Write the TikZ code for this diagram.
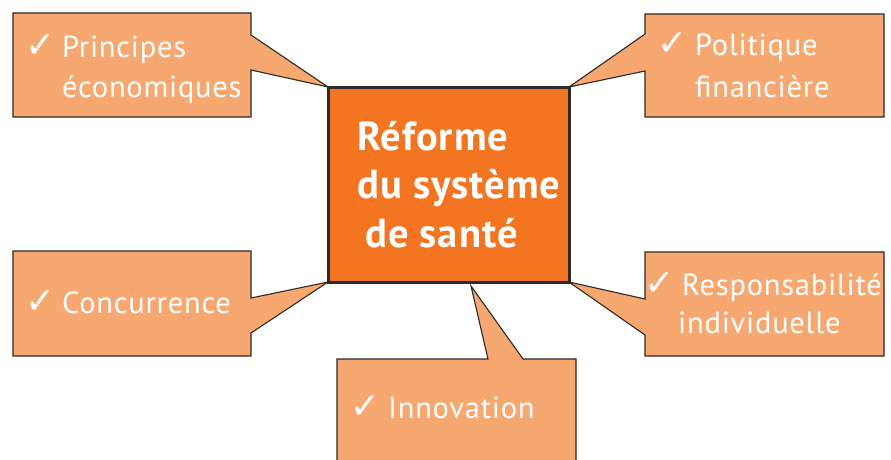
\documentclass[tikz,border=0pt]{standalone}
\usepackage{fontspec}
\setmainfont{PT Sans}[LetterSpace=2.5]
\newfontfamily\symfont{DejaVu Sans}
\definecolor{calloutfill}{HTML}{F6A870}
\definecolor{corefill}{HTML}{F37421}
\definecolor{edge}{HTML}{2B2A29}
\tikzset{
  callout/.style={fill=calloutfill, draw=edge, line width=1.1pt, line join=miter},
  core/.style={fill=corefill, draw=edge, line width=3pt},
  itemtext/.style={anchor=base west, inner sep=0pt, text=white, font=\fontsize{30.5}{36}\selectfont},
  coretext/.style={anchor=base west, inner sep=0pt, text=white, font=\fontsize{40.5}{48}\selectfont\bfseries},
  tick/.style={anchor=base west, inner sep=0pt, text=white, font=\fontsize{36}{40}\symfont}
}
\newcommand{\chk}{\symbol{"2713}}
\begin{document}
\begin{tikzpicture}[x=1pt,y=-1pt]
\useasboundingbox (0,0) rectangle (891,459);

% central box corners (tips of the callout tails)
\coordinate (tl) at (328,87);
\coordinate (tr) at (569,87);
\coordinate (bl) at (328,282);
\coordinate (br) at (569,282);
\coordinate (bm) at (471,286);

% callout: Principes économiques
\draw[callout] (13,13) -- (251,13) -- (251,35) -- (tl) -- (251,70) -- (251,117) -- (13,117) -- cycle;
% callout: Politique financière
\draw[callout] (645,14) -- (884,14) -- (884,117) -- (645,117) -- (645,71) -- (tr) -- (645,34) -- cycle;
% callout: Concurrence
\draw[callout] (13,251) -- (251,251) -- (251,298) -- (bl) -- (251,333) -- (251,356) -- (13,356) -- cycle;
% callout: Responsabilité individuelle
\draw[callout] (645,252) -- (884,252) -- (884,356) -- (645,356) -- (645,335) -- (br) -- (645,299) -- cycle;
% callout: Innovation
\draw[callout] (337,359) -- (488,359) -- (bm) -- (523,359) -- (576,359) -- (576,470) -- (337,470) -- cycle;

% central box
\draw[core] (tl) rectangle (br);
\node[coretext] (c1) at (357,150) {Réforme};
\node[coretext] (c2) at (357,198) {du système};
\node[coretext] (c3) at (365,247) {de santé};

% labels
\node[tick] (k1) at (25,57) {\chk};
\node[itemtext] (p1) at (62,57) {Principes};
\node[itemtext] (p2) at (62,97) {économiques};

\node[tick] (k2) at (657,55) {\chk};
\node[itemtext] (f1) at (695,55) {Politique};
\node[itemtext] (f2) at (695,97) {financière};

\node[tick] (k3) at (25,313) {\chk};
\node[itemtext] (cc) at (62,313) {Concurrence};

\node[tick] (k4) at (644,295) {\chk};
\node[itemtext] (r1) at (682,295) {Responsabilité};
\node[itemtext] (r2) at (678,333) {individuelle};

\node[tick] (k5) at (350,418) {\chk};
\node[itemtext] (in) at (388,418) {Innovation};
\end{tikzpicture}
\end{document}
